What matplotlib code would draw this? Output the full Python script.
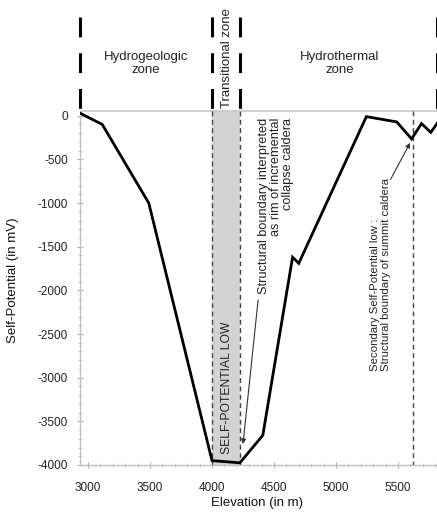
import matplotlib
matplotlib.use("Agg")
import matplotlib.pyplot as plt
from matplotlib.ticker import MultipleLocator, FixedLocator

plt.rcParams['font.family'] = ['Liberation Sans', 'DejaVu Sans']
plt.rcParams['axes.unicode_minus'] = False

# Data
elevation = [2935, 3115, 3490, 4000, 4225, 4410, 4650, 4700, 5245, 5490, 5610, 5690, 5765, 5830]
self_potential = [30, -100, -1000, -3950, -3975, -3660, -1620, -1690, -10, -70, -265, -90, -190, -60]

zone_bounds = [2935, 4000, 4225, 5812]
zone_labels = ["Hydrogeologic\nzone", "Transitional zone", "Hydrothermal\nzone"]
low_bounds = [4000, 4225]
secondary_low = 5620
x_ticks = [3000, 3500, 4000, 4500, 5000, 5500]
y_ticks = [0, -500, -1000, -1500, -2000, -2500, -3000, -3500, -4000]

fig = plt.figure(figsize=(4.37, 5.13), dpi=100)
ax = fig.add_axes([0.183, 0.0936, 0.817, 0.9064])
xmin, xmax = 2935, 5815
ymin, ymax = -4000, 1326
ax.set_xlim(xmin, xmax)
ax.set_ylim(ymin, ymax)

# shaded self-potential low
ax.fill_between(low_bounds, [50, 50], [ymin, ymin], color='#d3d3d3', zorder=1, lw=0)
# thin dashed verticals
for xv in low_bounds + [secondary_low]:
    ax.plot([xv, xv], [50, ymin], color='#444444', lw=1.0,
            linestyle=(0, (3.5, 2.5)), zorder=2)

# gray horizontal line at top of profile
ax.axhline(50, color='#c8c8c8', lw=1.2, zorder=1)

# zone header dividers
for xv in zone_bounds:
    ax.plot([xv, xv], [1131, 63], color='black', lw=2.2,
            linestyle=(0, (6.5, 5.2)), zorder=3, clip_on=False,
            dash_capstyle='butt')

# zone labels
ax.text((zone_bounds[0] + zone_bounds[1]) / 2, 600, zone_labels[0],
        ha='center', va='center', fontsize=9.5, color='#222222', linespacing=1.1)
ax.text((zone_bounds[1] + zone_bounds[2]) / 2 + 5, 86, zone_labels[1],
        ha='center', va='bottom', rotation=90, fontsize=9.5, color='#222222')
ax.text(5030, 600, zone_labels[2],
        ha='center', va='center', fontsize=9.5, color='#222222', linespacing=1.1)

# main profile
ax.plot(elevation, self_potential, color='black', lw=2.0, zorder=4,
        solid_joinstyle='miter')

# annotations
ax.text(4118, -3115, "SELF-POTENTIAL LOW", rotation=90, ha='center', va='center',
        fontsize=8.7, color='#222222', zorder=5)
ax.text(4520, -20, "Structural boundary interpreted\nas rim of incremental\ncollapse caldera",
        rotation=90, ha='center', va='top', multialignment='right',
        fontsize=9.2, color='#222222', linespacing=1.0, zorder=5)
ax.annotate('', xy=(4250, -3760), xytext=(4372, -2110),
            arrowprops=dict(arrowstyle='-|>', color='#333333', lw=0.8,
                            mutation_scale=7, shrinkA=0, shrinkB=0), zorder=5)
ax.text(5360, -2925, "Secondary Self-Potential low :\nStructural boundary of summit caldera",
        rotation=90, ha='center', va='bottom', multialignment='left',
        fontsize=8.2, color='#222222', linespacing=1.05, zorder=5)
ax.annotate('', xy=(5598, -310), xytext=(5440, -730),
            arrowprops=dict(arrowstyle='-|>', color='#333333', lw=0.8,
                            mutation_scale=7, shrinkA=0, shrinkB=0), zorder=5)

# axes styling
for s in ['top', 'right']:
    ax.spines[s].set_visible(False)
ax.spines['left'].set_bounds(ymin, 0)
ax.spines['left'].set_color('#c0c0c0')
ax.spines['bottom'].set_color('#c0c0c0')
ax.spines['left'].set_linewidth(1.0)
ax.spines['bottom'].set_linewidth(1.0)

ax.set_xticks(x_ticks)
ax.set_yticks(y_ticks)
ax.xaxis.set_minor_locator(MultipleLocator(100))
ax.yaxis.set_minor_locator(FixedLocator(
    [v for v in range(-4000, 1, 100) if v % 500 != 0]))
ax.tick_params(axis='both', which='major', direction='inout', length=5, width=0.8,
               color='#b0b0b0', labelsize=8.5, labelcolor='#222222')
ax.tick_params(axis='both', which='minor', direction='inout', length=3, width=0.6,
               color='#c0c0c0')
ax.tick_params(axis='x', which='major', pad=10)
ax.tick_params(axis='y', which='major', pad=6)

ax.set_xlabel("Elevation (in m)", fontsize=9.5, color='#111111')
ax.set_ylabel("Self-Potential (in mV)", fontsize=9.5, color='#111111')
ax.xaxis.set_label_coords(0.496, -0.069)
ax.yaxis.set_label_coords(-0.171, 0.398)

fig.savefig("out.png", dpi=100)
